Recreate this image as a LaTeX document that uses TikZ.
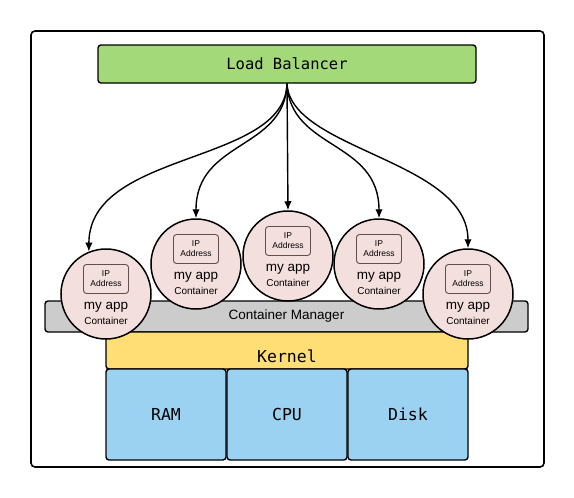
\documentclass[tikz,border=0pt]{standalone}
\usepackage{fontspec}
\setmainfont{Liberation Sans}
\setmonofont{DejaVu Sans Mono}
\usetikzlibrary{arrows.meta}

\definecolor{lbgreen}{HTML}{A4D97A}
\definecolor{mgrgrey}{HTML}{CCCCCC}
\definecolor{kernyellow}{HTML}{FFDE75}
\definecolor{hwblue}{HTML}{9BD2F2}
\definecolor{podpink}{HTML}{F3DFDD}
\definecolor{ipline}{HTML}{5E5050}

\tikzset{
  box/.style={draw, line width=1.4pt, rounded corners=3pt, inner sep=0pt},
  ctr/.style={circle, draw, line width=1.5pt, fill=podpink, minimum size=90pt, inner sep=0pt},
  ipbox/.style={draw=ipline, line width=0.9pt, rounded corners=3pt, fill=podpink,
    minimum width=45pt, minimum height=29pt, inner sep=0pt, align=center,
    font=\fontsize{8.5}{10}\selectfont},
  link/.style={-{Latex[length=9pt,width=7.5pt]}, line width=1.4pt},
}

\begin{document}
\begin{tikzpicture}[x=1pt,y=-1pt]
  \useasboundingbox (0,0) rectangle (574,498);
  % outer frame
  \draw[line width=1.6pt, rounded corners=4pt] (31,31) rectangle (544,467);

  \node[box, fill=lbgreen, minimum width=378pt, minimum height=38pt,
    font=\ttfamily\fontsize{15.5}{18}\selectfont] (lb) at (287,64) {Load Balancer};

  % host layers
  \node[box, fill=mgrgrey, minimum width=483pt, minimum height=31pt,
    font=\fontsize{13.5}{16}\selectfont] (mgr) at (286.5,316.5) {Container Manager};
  \node[box, fill=kernyellow, minimum width=362pt, minimum height=37pt,
    text height=23pt, text depth=0pt,
    font=\ttfamily\fontsize{16.5}{19}\selectfont] (kern) at (287,350.5) {Kernel};
  \foreach \n/\x/\t in {ram/166/RAM, cpu/287/CPU, disk/408/Disk}
    \node[box, fill=hwblue, minimum width=120pt, minimum height=91pt,
      font=\ttfamily\fontsize{16.5}{19}\selectfont] (\n) at (\x,414.5) {\t};

  % containers
  \foreach \n/\x/\y in {1/106/294, 2/196/264, 3/288/256, 4/379/264, 5/468/294} {
    \node[ctr] (c\n) at (\x,\y) {};
    \node[ipbox] (ip\n) at (\x,\y-15) {IP\\Address};
    \node[font=\fontsize{13.5}{16}\selectfont] (app\n) at (\x,\y+13) {my app};
    \node[font=\fontsize{10}{12}\selectfont] (lbl\n) at (\x,\y+27) {Container};
  }

  \draw[link] (lb.south) .. controls (285,165) and (89,150) .. (c1.112);
  \draw[link] (lb.south) .. controls (285,150) and (196,140) .. (c2.north);
  \draw[link] (lb.south) -- (c3.north);
  \draw[link] (lb.south) .. controls (290,150) and (379,140) .. (c4.north);
  \draw[link] (lb.south) .. controls (290,150) and (468,160) .. (c5.north);
\end{tikzpicture}
\end{document}
